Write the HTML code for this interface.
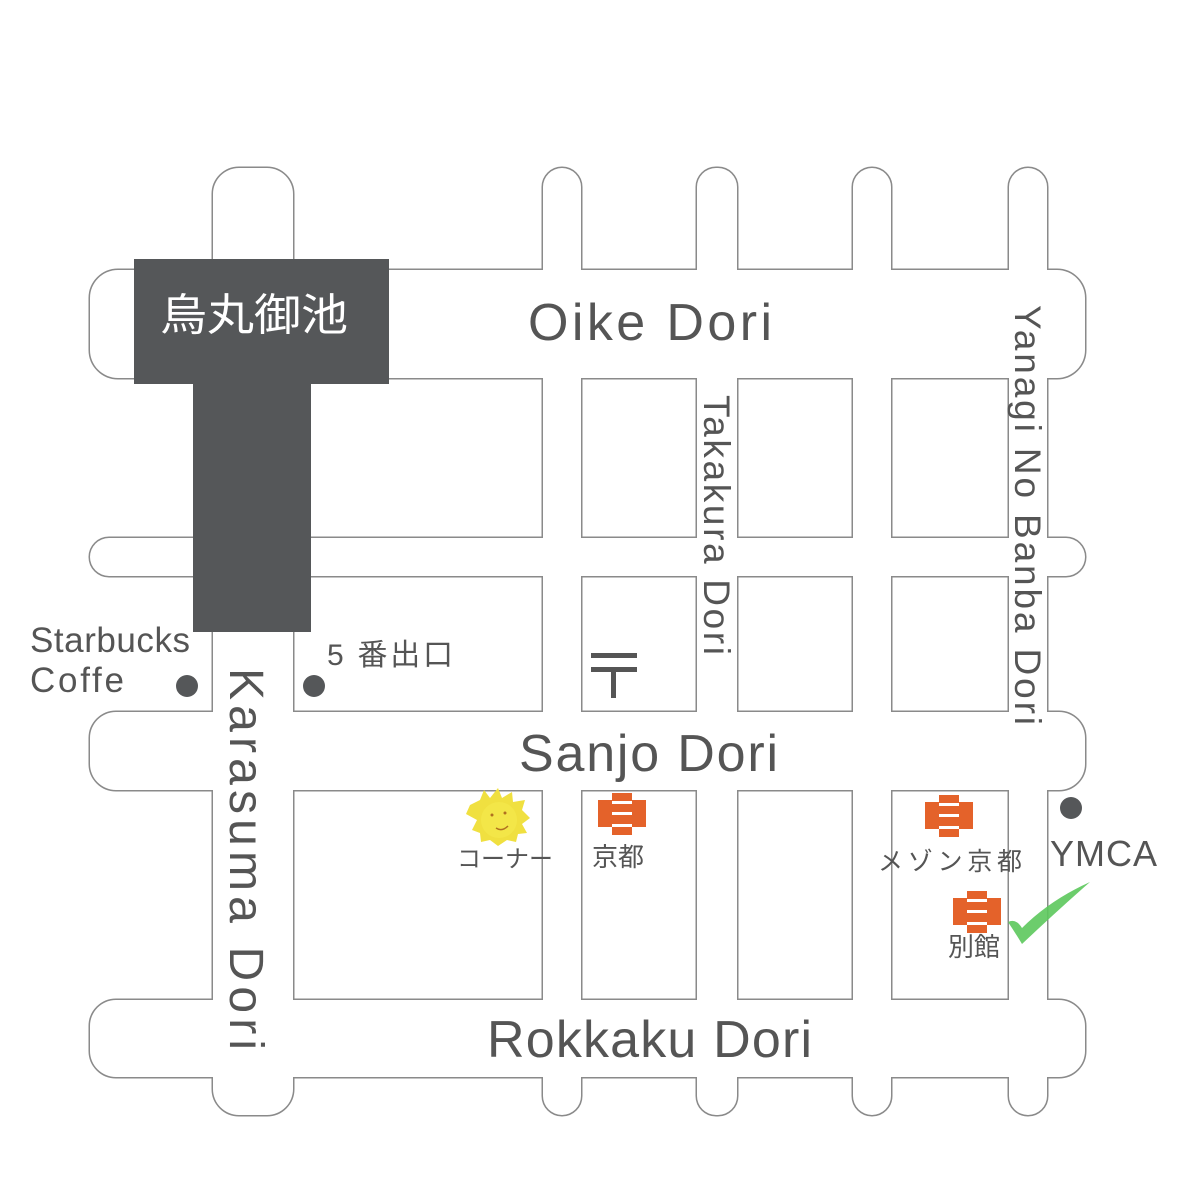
<!DOCTYPE html>
<html><head><meta charset="utf-8"><style>
html,body{margin:0;padding:0;background:#fff;}
svg{display:block;}
text{font-family:"Liberation Sans","Noto Sans CJK JP",sans-serif;fill:#555;}
</style></head><body>
<svg width="1179" height="1179" viewBox="0 0 1179 1179" xmlns="http://www.w3.org/2000/svg">
<defs>
<g id="roads">
<rect x="90" y="270" width="995" height="108" rx="28"/>
<rect x="90" y="538" width="995" height="38" rx="19"/>
<rect x="90" y="712" width="995" height="78" rx="26"/>
<rect x="90" y="1000" width="995" height="77" rx="26"/>
<rect x="213" y="168" width="80" height="947" rx="26"/>
<rect x="543" y="168" width="38" height="947" rx="19"/>
<rect x="697" y="168" width="40" height="947" rx="19"/>
<rect x="853" y="168" width="38" height="947" rx="19"/>
<rect x="1009" y="168" width="38" height="947" rx="19"/>
</g>
<g id="hotel">
<rect x="0" y="7" width="48" height="27" fill="#e4622a"/>
<rect x="14" y="0" width="20" height="8" fill="#e4622a"/>
<rect x="14" y="33" width="20" height="9" fill="#e4622a"/>
<rect x="14" y="8" width="20" height="3" fill="#fff"/>
<rect x="14" y="19" width="20" height="3" fill="#fff"/>
<rect x="14" y="31" width="20" height="3" fill="#fff"/>
</g>
</defs>
<g fill="none" stroke="#8a8a8a" stroke-width="3"><use href="#roads"/></g>
<g fill="#fff" stroke="none"><use href="#roads"/></g>

<rect x="134" y="259" width="255" height="125" fill="#555759"/>
<rect x="193" y="380" width="118" height="252" fill="#555759"/>
<text x="160" y="330" font-size="44" textLength="188" lengthAdjust="spacingAndGlyphs" style="fill:#fff">烏丸御池</text>

<text x="528" y="340" font-size="52" textLength="244" lengthAdjust="spacing">Oike Dori</text>
<text x="519" y="771" font-size="52" textLength="259" lengthAdjust="spacing">Sanjo Dori</text>
<text x="487" y="1057" font-size="52" textLength="325" lengthAdjust="spacing">Rokkaku Dori</text>
<text transform="translate(230,668) rotate(90)" font-size="48" textLength="382" lengthAdjust="spacing">Karasuma Dori</text>
<text transform="translate(704,395) rotate(90)" font-size="37" textLength="260" lengthAdjust="spacing">Takakura Dori</text>
<text transform="translate(1015,305) rotate(90)" font-size="37" textLength="420" lengthAdjust="spacing">Yanagi No Banba Dori</text>

<text x="30" y="652" font-size="35" textLength="160" lengthAdjust="spacing">Starbucks</text>
<text x="30" y="692" font-size="35" textLength="94" lengthAdjust="spacing">Coffe</text>
<circle cx="187" cy="686" r="11" fill="#555759"/>
<circle cx="314" cy="686" r="11" fill="#555759"/>
<text x="327" y="665" font-size="30" textLength="126" lengthAdjust="spacing">5 番出口</text>

<rect x="591" y="653" width="46" height="5" fill="#555"/>
<rect x="591" y="667" width="46" height="5" fill="#555"/>
<rect x="611" y="667" width="5" height="31" fill="#555"/>

<g>
<path d="M470 805 L480 800 L484 790 L490 798 L498 788 L502 798 L512 792 L513 802 L525 800 L522 810 L530 818 L522 824 L527 833 L518 834 L516 842 L507 840 L498 846 L490 840 L481 842 L480 833 L472 830 L477 820 L466 814 Z" fill="#f0e040"/>
<circle cx="499" cy="820" r="18" fill="#f3e648"/>
<circle cx="492" cy="815" r="1.5" fill="#b07020"/>
<circle cx="505" cy="813" r="1.5" fill="#b07020"/>
<path d="M496 828 Q502 832 508 826" stroke="#b07020" stroke-width="1.5" fill="none"/>
</g>
<text x="457" y="867" font-size="24" textLength="96" lengthAdjust="spacing">コーナー</text>

<use href="#hotel" x="598" y="793"/>
<text x="592" y="866" font-size="26">京都</text>
<use href="#hotel" x="925" y="795"/>
<text x="878" y="870" font-size="25" textLength="144" lengthAdjust="spacing">メゾン京都</text>
<use href="#hotel" x="953" y="891"/>
<text x="948" y="956" font-size="26">別館</text>

<circle cx="1071" cy="808" r="11" fill="#555759"/>
<text x="1050" y="866" font-size="36" textLength="107" lengthAdjust="spacing">YMCA</text>

<path d="M1008 922 Q1016 918 1022 928 Q1050 900 1090 882 Q1058 910 1022 944 Q1016 934 1008 922 Z" fill="#5cc85c" opacity="0.9"/>
</svg>
</body></html>
